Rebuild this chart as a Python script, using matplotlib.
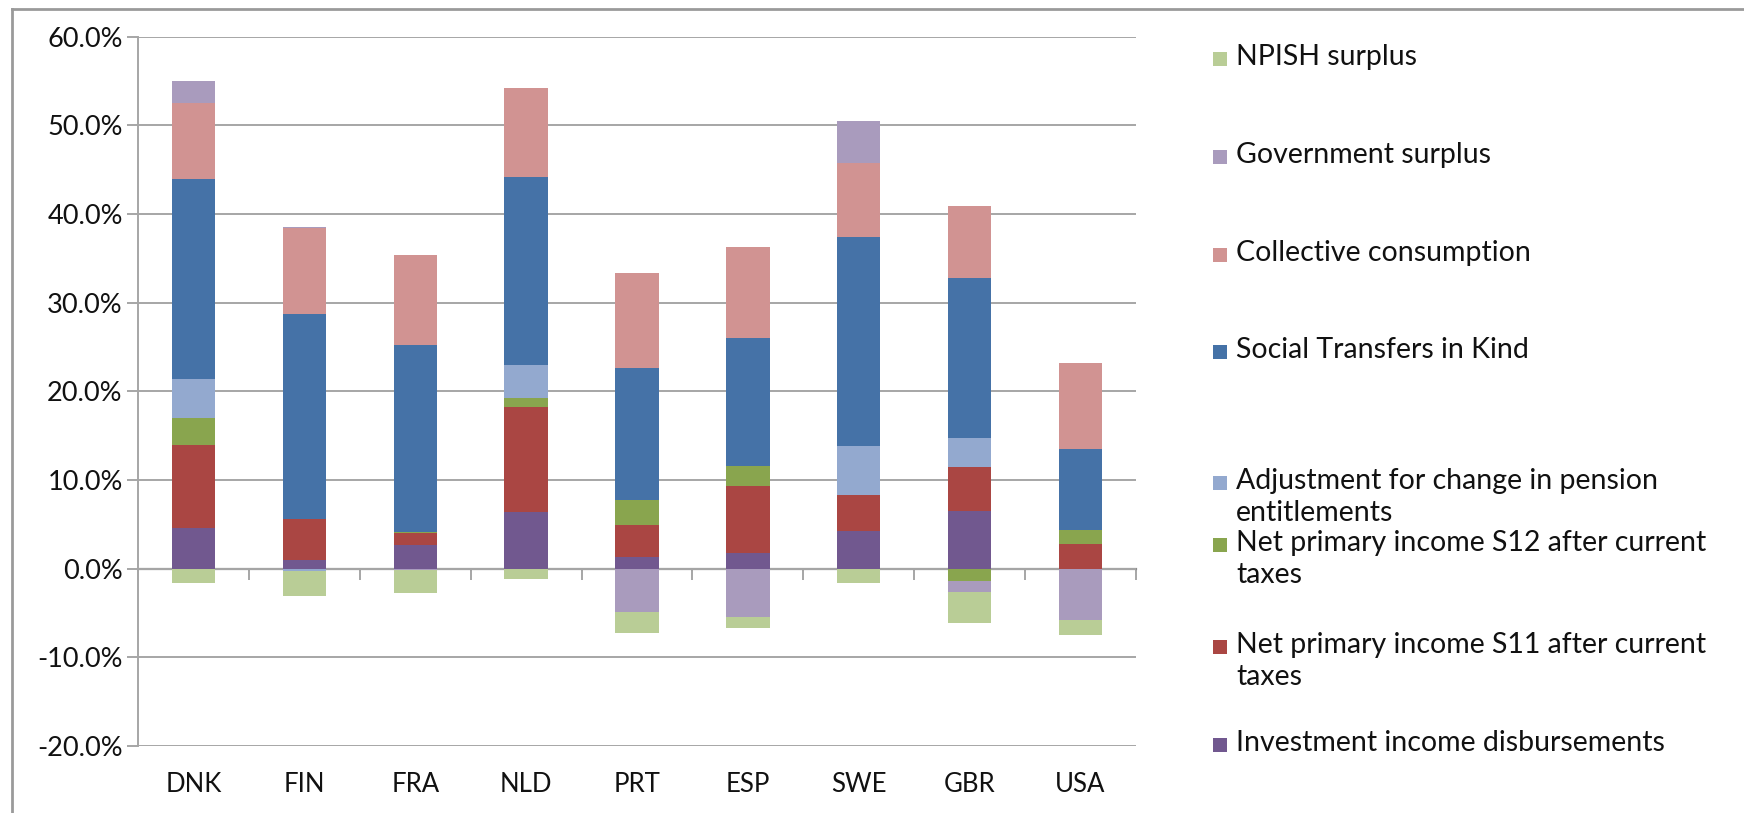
import matplotlib
matplotlib.use("Agg")
import matplotlib.pyplot as plt
from matplotlib.patches import Rectangle
from matplotlib.ticker import FuncFormatter, MultipleLocator
import numpy as np

plt.rcParams['font.family'] = ['Lato', 'DejaVu Sans']

countries = ["DNK", "FIN", "FRA", "NLD", "PRT", "ESP", "SWE", "GBR", "USA"]

# Components in % of GDP, listed from the bottom of each stack upwards
investment_income = [4.6, 1.0, 2.7, 6.4, 1.3, 1.8, 4.3, 6.5, 0.0]
net_primary_s11 = [9.3, 4.6, 1.3, 11.8, 3.65, 7.5, 4.0, 5.0, 2.75]
net_primary_s12 = [3.1, 0.0, 0.15, 1.0, 2.8, 2.3, 0.0, -1.4, 1.6]
pension_adjustment = [4.4, -0.3, 0.0, 3.8, 0.0, 0.0, 5.5, 3.2, 0.0]
social_transfers = [22.6, 23.1, 21.1, 21.2, 14.85, 14.45, 23.6, 18.1, 9.2]
collective_consumption = [8.5, 9.7, 10.1, 10.0, 10.8, 10.25, 8.4, 8.05, 9.6]
government_surplus = [2.5, 0.15, -0.2, 0.0, -4.9, -5.45, 4.7, -1.25, -5.75]
npish_surplus = [-1.6, -2.8, -2.5, -1.2, -2.35, -1.25, -1.6, -3.5, -1.7]

series = [
    ("Investment income disbursements", investment_income, "#71588F"),
    ("Net primary income S11 after current\ntaxes", net_primary_s11, "#AA4643"),
    ("Net primary income S12 after current\ntaxes", net_primary_s12, "#89A54E"),
    ("Adjustment for change in pension\nentitlements", pension_adjustment, "#93A9CF"),
    ("Social Transfers in Kind", social_transfers, "#4572A7"),
    ("Collective consumption", collective_consumption, "#D19392"),
    ("Government surplus", government_surplus, "#A99BBD"),
    ("NPISH surplus", npish_surplus, "#B9CD96"),
]

W_PX, H_PX = 1744, 813
fig = plt.figure(figsize=(W_PX / 100, H_PX / 100), dpi=100)
fig.patch.set_facecolor("white")

# plot area in pixels
left, right, top, bottom = 138, 1136, 36.7, 746
ax = fig.add_axes([left / W_PX, 1 - bottom / H_PX, (right - left) / W_PX, (bottom - top) / H_PX])

grid_c = "#A6A6A6"
text_c = "#111111"
x = np.arange(len(countries))
pos_base = np.zeros(len(countries))
neg_base = np.zeros(len(countries))
for label, vals, color in series:
    v = np.array(vals, dtype=float)
    base = np.where(v >= 0, pos_base, neg_base)
    ax.bar(x, v, width=0.39, bottom=base, color=color, linewidth=0, zorder=3)
    pos_base += np.where(v >= 0, v, 0)
    neg_base += np.where(v < 0, v, 0)

ax.set_xlim(-0.5, len(countries) - 0.5)
ax.set_ylim(-20, 60)
ax.yaxis.set_major_locator(MultipleLocator(10))
ax.yaxis.set_major_formatter(FuncFormatter(lambda v, p: f"{v:.1f}%"))
ax.grid(axis="y", color=grid_c, linewidth=1.4, zorder=0)
ax.set_axisbelow(True)

for s in ["top", "right"]:
    ax.spines[s].set_visible(False)
ax.spines["left"].set_color(grid_c)
ax.spines["left"].set_linewidth(1.4)
ax.spines["bottom"].set_visible(False)

ax.tick_params(axis="y", direction="out", length=8, width=1.4, color=grid_c,
               labelsize=19.5, labelcolor=text_c, pad=3)
ax.set_xticks(x)
ax.set_xticklabels(countries)
ax.tick_params(axis="x", length=0, labelsize=18.5, labelcolor=text_c, pad=19)

# horizontal category axis crossing at zero, with boundary tick marks
zero_frac = (0 - (-20)) / 80
sec = ax.secondary_xaxis(zero_frac)
sec.set_xticks(np.arange(len(countries) + 1) - 0.5)
sec.set_xticklabels([])
sec.tick_params(direction="out", length=8, width=1.4, color=grid_c)
sec.spines["bottom"].set_color("#8C8C8C")
sec.spines["bottom"].set_linewidth(1.6)
for s in ["top", "left", "right"]:
    if s in sec.spines:
        sec.spines[s].set_visible(False)

# legend, drawn top to bottom in reverse stacking order
legend_rows = [59, 157, 255, 352, 483, 545, 647, 745]
fs = 20.5
for (label, vals, color), yc in zip(series[::-1], legend_rows):
    sq = 14
    fig.patches.append(Rectangle((1213 / W_PX, 1 - (yc + sq / 2) / H_PX), sq / W_PX, sq / H_PX,
                                 transform=fig.transFigure, facecolor=color, edgecolor="none"))
    fig.text(1236 / W_PX, 1 - (yc - 15) / H_PX, label, fontsize=fs, color=text_c,
             va="top", ha="left", linespacing=1.3)

# outer chart frame
fig.add_artist(plt.Line2D([12 / W_PX, 12 / W_PX], [0, 1 - 9 / H_PX], transform=fig.transFigure,
                          color="#9A9A9A", linewidth=2))
fig.add_artist(plt.Line2D([12 / W_PX, 1], [1 - 9 / H_PX, 1 - 9 / H_PX], transform=fig.transFigure,
                          color="#9A9A9A", linewidth=2))

fig.savefig("out.png", dpi=100, facecolor="white")
